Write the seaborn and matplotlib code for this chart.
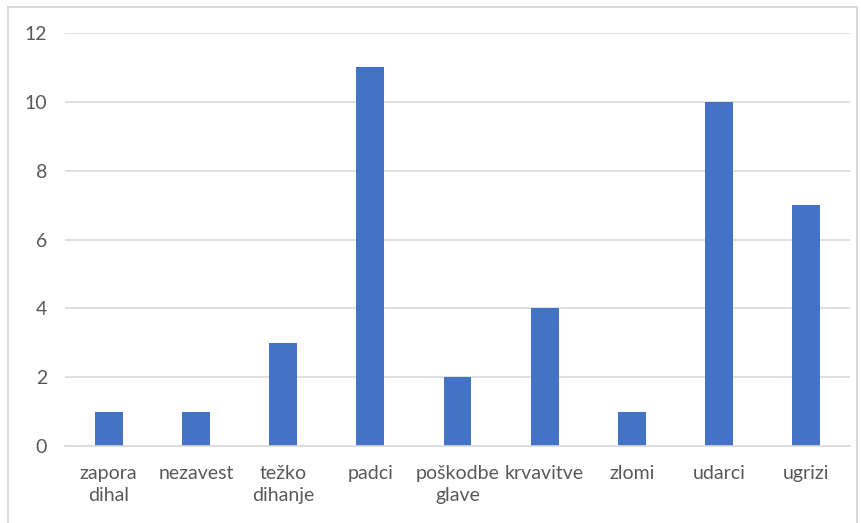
import matplotlib
matplotlib.use("Agg")
import matplotlib.pyplot as plt
import matplotlib.patches as patches
import seaborn as sns
import pandas as pd

# data
categories = ["zapora\ndihal", "nezavest", "težko\ndihanje", "padci", "poškodbe\nglave",
              "krvavitve", "zlomi", "udarci", "ugrizi"]
values = [1, 1, 3, 11, 2, 4, 1, 10, 7]
y_ticks = [0, 2, 4, 6, 8, 10, 12]

df = pd.DataFrame({"kategorija": categories, "stevilo": values})

sns.set_style("white")
plt.rcParams["font.family"] = ["Lato", "DejaVu Sans"]

fig = plt.figure(figsize=(8.62, 5.23), dpi=100)
ax = fig.add_axes([0.0754, 0.1472, 0.9106, 0.7897])

sns.barplot(data=df, x="kategorija", y="stevilo", color="#4472C4",
            width=0.32, saturation=1, linewidth=0, ax=ax)

#### settings
ax.set_ylim(0, 12)
ax.set_yticks(y_ticks)
ax.set_xlim(-0.5, len(categories) - 0.5)
ax.set_xlabel("")
ax.set_ylabel("")
ax.grid(axis="y", color="#d9d9d9", linewidth=1.2)
ax.set_axisbelow(True)
for s in ["top", "right", "left"]:
    ax.spines[s].set_visible(False)
ax.spines["bottom"].set_color("#d9d9d9")
ax.spines["bottom"].set_linewidth(1.2)
ax.tick_params(axis="both", length=0, labelsize=14, labelcolor="#595959")
ax.tick_params(axis="y", pad=13)
ax.tick_params(axis="x", pad=14)
for lab in ax.get_xticklabels():
    lab.set_multialignment("center")
    lab.set_linespacing(1.3)

#### outer frame
fig.patches.append(patches.Rectangle((0.0093, -0.01), 0.985, 0.9966, transform=fig.transFigure,
                                     fill=False, edgecolor="#d9d9d9", linewidth=1.5))

fig.savefig("out.png", dpi=100)
